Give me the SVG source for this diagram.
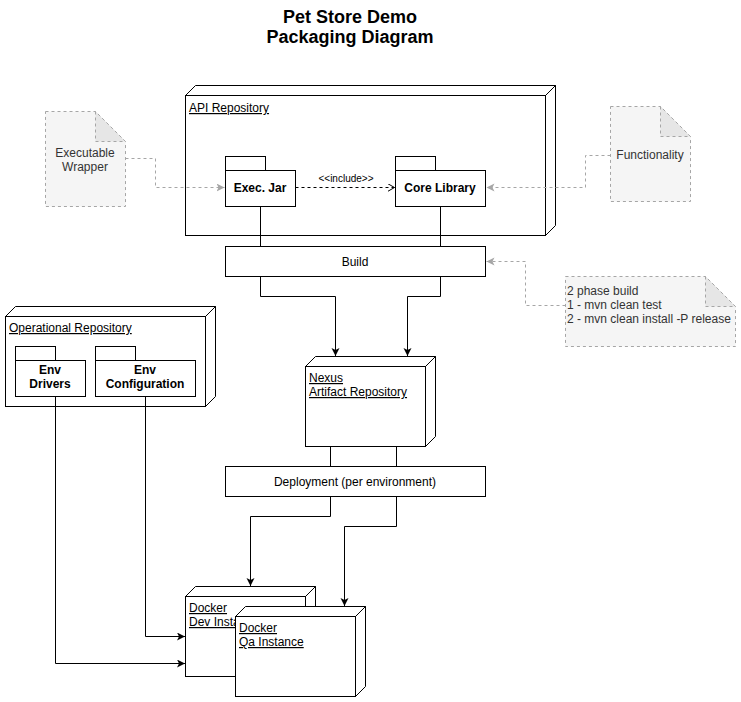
<svg xmlns="http://www.w3.org/2000/svg" width="741" height="702" viewBox="0 0 741 702">
<style>
text{font-family:"Liberation Sans",Arial,sans-serif;font-size:12px;fill:#000}
.t{font-size:18px;font-weight:bold;text-anchor:middle}
.b{font-weight:bold;text-anchor:middle}
.c{text-anchor:middle}
.u{text-decoration:underline}
.n{fill:#333}
.box{fill:#fff;stroke:#000;stroke-width:1}
.note{fill:#f5f5f5;stroke:#a6a6a6;stroke-dasharray:3 3}
.fold{fill:#e6e6e6;stroke:#a6a6a6;stroke-dasharray:3 3}
.ln{fill:none;stroke:#000;stroke-width:1}
.gl{fill:none;stroke:#a6a6a6;stroke-width:1;stroke-dasharray:3 3}
.dl{fill:none;stroke:#000;stroke-width:1;stroke-dasharray:3 3}
</style>
<defs>
<marker id="ab" markerWidth="10" markerHeight="10" refX="8" refY="4" orient="auto" markerUnits="userSpaceOnUse"><path d="M0,0 L8,4 L0,8 L2,4 Z" fill="#000"/></marker>
<marker id="ag" markerWidth="10" markerHeight="10" refX="8" refY="4" orient="auto" markerUnits="userSpaceOnUse"><path d="M0,0 L8,4 L0,8 L2,4 Z" fill="#a6a6a6"/></marker>
<marker id="ao" markerWidth="10" markerHeight="10" refX="7" refY="4" orient="auto" markerUnits="userSpaceOnUse"><path d="M0,0 L7,4 L0,8" fill="none" stroke="#000"/></marker>
</defs>
<rect width="741" height="702" fill="#fff"/>
<g id="title">
<text class="t" x="350" y="23">Pet Store Demo</text>
<text class="t" x="350" y="43">Packaging Diagram</text>
</g>
<g id="api-repository">
<path class="box" d="M185.5,95.5 L195.5,85.5 L555.5,85.5 L545.5,95.5 Z M545.5,95.5 L555.5,85.5 L555.5,225.5 L545.5,235.5 Z"/>
<rect class="box" x="185.5" y="95.5" width="360" height="140"/>
<text class="u" x="189" y="112">API Repository</text>
</g>
<g id="exec-jar">
<rect class="box" x="225.5" y="156.5" width="40" height="14"/>
<rect class="box" x="225.5" y="170.5" width="70" height="36"/>
<text class="b" x="260" y="192">Exec. Jar</text>
</g>
<g id="core-library">
<rect class="box" x="395.5" y="156.5" width="40" height="14"/>
<rect class="box" x="395.5" y="170.5" width="90" height="36"/>
<text class="b" x="440" y="192">Core Library</text>
</g>
<g id="build">
<rect class="box" x="225.5" y="246.5" width="260" height="30"/>
<text class="c" x="355" y="266">Build</text>
</g>
<g id="nexus">
<path class="box" d="M305.5,366.5 L315.5,356.5 L435.5,356.5 L425.5,366.5 Z M425.5,366.5 L435.5,356.5 L435.5,436.5 L425.5,446.5 Z"/>
<rect class="box" x="305.5" y="366.5" width="120" height="80"/>
<text class="u" x="309" y="382">Nexus</text>
<text class="u" x="309" y="396">Artifact Repository</text>
</g>
<g id="deployment">
<rect class="box" x="225.5" y="466.5" width="260" height="30"/>
<text class="c" x="355" y="486">Deployment (per environment)</text>
</g>
<g id="operational-repository">
<path class="box" d="M5.5,316.5 L15.5,306.5 L215.5,306.5 L205.5,316.5 Z M205.5,316.5 L215.5,306.5 L215.5,396.5 L205.5,406.5 Z"/>
<rect class="box" x="5.5" y="316.5" width="200" height="90"/>
<text class="u" x="9" y="332">Operational Repository</text>
</g>
<g id="env-drivers">
<rect class="box" x="15.5" y="346.5" width="40" height="14"/>
<rect class="box" x="15.5" y="360.5" width="70" height="36"/>
<text class="b" x="50" y="374">Env</text>
<text class="b" x="50" y="388">Drivers</text>
</g>
<g id="env-configuration">
<rect class="box" x="95.5" y="346.5" width="40" height="14"/>
<rect class="box" x="95.5" y="360.5" width="100" height="36"/>
<text class="b" x="145" y="374">Env</text>
<text class="b" x="145" y="388">Configuration</text>
</g>
<g id="docker-dev">
<path class="box" d="M185.5,596.5 L195.5,586.5 L315.5,586.5 L305.5,596.5 Z M305.5,596.5 L315.5,586.5 L315.5,666.5 L305.5,676.5 Z"/>
<rect class="box" x="185.5" y="596.5" width="120" height="80"/>
<text class="u" x="189" y="612">Docker</text>
<text class="u" x="189" y="626">Dev Instance</text>
</g>
<g id="docker-qa">
<path class="box" d="M235.5,616.5 L245.5,606.5 L365.5,606.5 L355.5,616.5 Z M355.5,616.5 L365.5,606.5 L365.5,686.5 L355.5,696.5 Z"/>
<rect class="box" x="235.5" y="616.5" width="120" height="80"/>
<text class="u" x="239" y="632">Docker</text>
<text class="u" x="239" y="646">Qa Instance</text>
</g>
<g id="note-executable-wrapper">
<path class="note" d="M45.5,111.5 L95.5,111.5 L125.5,141.5 L125.5,206.5 L45.5,206.5 Z"/>
<path class="fold" d="M95.5,111.5 L95.5,141.5 L125.5,141.5 Z"/>
<text class="c n" x="85" y="157">Executable</text>
<text class="c n" x="85" y="171">Wrapper</text>
</g>
<g id="note-functionality">
<path class="note" d="M610.5,106.5 L660.5,106.5 L690.5,136.5 L690.5,201.5 L610.5,201.5 Z"/>
<path class="fold" d="M660.5,106.5 L660.5,136.5 L690.5,136.5 Z"/>
<text class="c n" x="650" y="159">Functionality</text>
</g>
<g id="note-build-phases">
<path class="note" d="M565.5,276.5 L705.5,276.5 L735.5,306.5 L735.5,346.5 L565.5,346.5 Z"/>
<path class="fold" d="M705.5,276.5 L705.5,306.5 L735.5,306.5 Z"/>
<text class="n" x="567" y="295">2 phase build</text>
<text class="n" x="567" y="309">1 - mvn clean test</text>
<text class="n" x="567" y="323">2 - mvn clean install -P release</text>
</g>
<g id="connectors">
<path class="dl" d="M295.5,187.5 L394.5,187.5" marker-end="url(#ao)"/>
<text x="346" y="182" class="c" style="font-size:10px">&lt;&lt;include&gt;&gt;</text>
<path class="gl" d="M125.5,158.5 L155.5,158.5 L155.5,187.5 L224.5,187.5" marker-end="url(#ag)"/>
<path class="gl" d="M610.5,155.5 L585.5,155.5 L585.5,187.5 L486.5,187.5" marker-end="url(#ag)"/>
<path class="gl" d="M565.5,305.5 L525.5,305.5 L525.5,261.5 L486.5,261.5" marker-end="url(#ag)"/>
<path class="ln" d="M260.5,206.5 L260.5,246.5"/>
<path class="ln" d="M440.5,206.5 L440.5,246.5"/>
<path class="ln" d="M260.5,276.5 L260.5,296.5 L335.5,296.5 L335.5,356" marker-end="url(#ab)"/>
<path class="ln" d="M440.5,276.5 L440.5,296.5 L407.5,296.5 L407.5,356" marker-end="url(#ab)"/>
<path class="ln" d="M330.5,446.5 L330.5,466.5"/>
<path class="ln" d="M396.5,446.5 L396.5,466.5"/>
<path class="ln" d="M330.5,496.5 L330.5,516.5 L250.5,516.5 L250.5,586" marker-end="url(#ab)"/>
<path class="ln" d="M396.5,496.5 L396.5,526.5 L344.5,526.5 L344.5,606" marker-end="url(#ab)"/>
<path class="ln" d="M145.5,396.5 L145.5,636.5 L185,636.5" marker-end="url(#ab)"/>
<path class="ln" d="M55.5,396.5 L55.5,663.5 L185,663.5" marker-end="url(#ab)"/>
</g>
</svg>
